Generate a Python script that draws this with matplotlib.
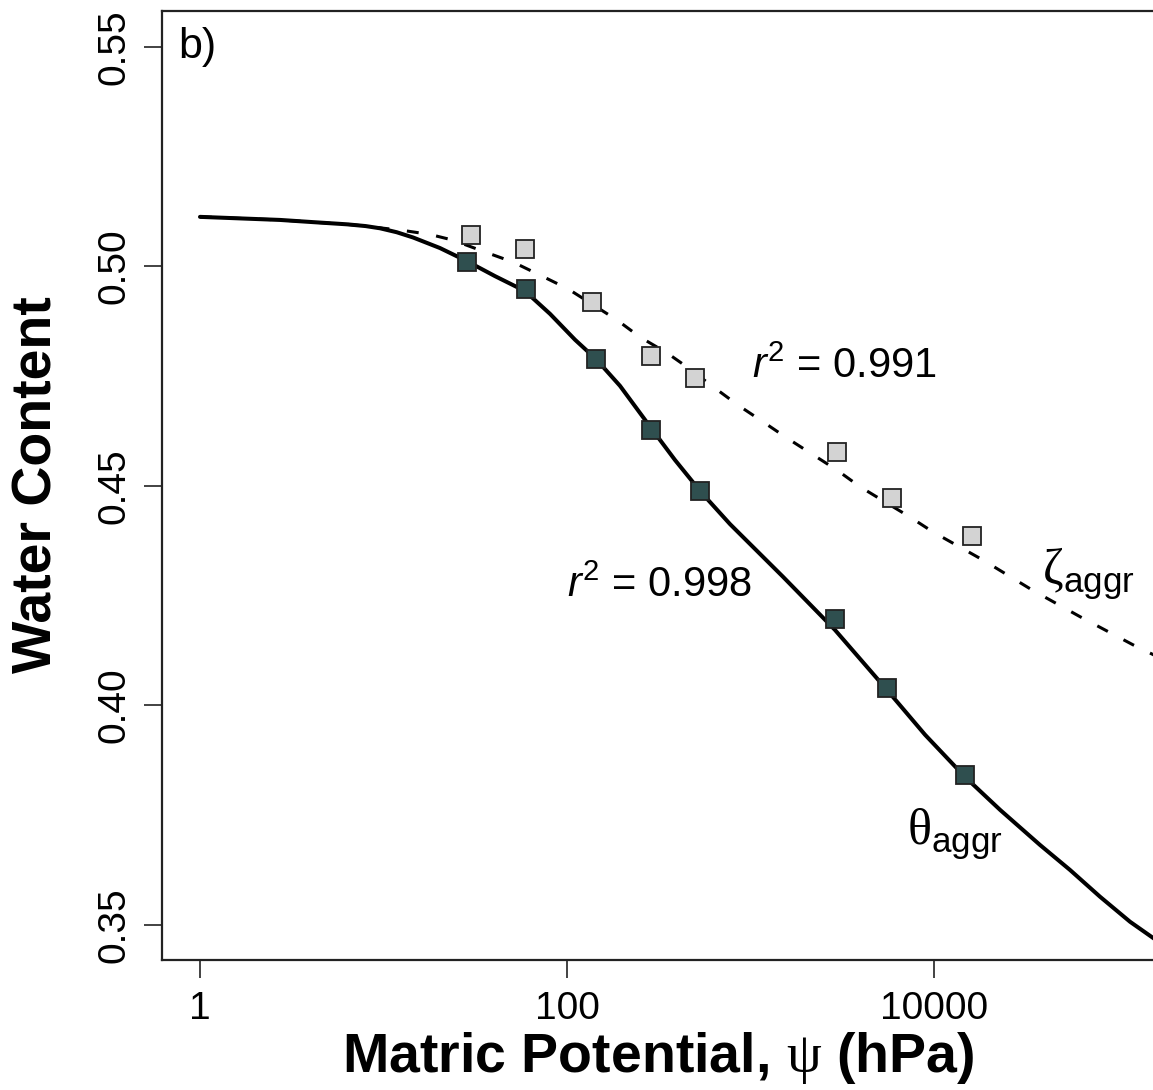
import matplotlib
matplotlib.use("Agg")
import matplotlib.pyplot as plt
from matplotlib.ticker import FixedLocator, NullLocator, FixedFormatter

plt.rcParams['font.family'] = ['Liberation Sans', 'DejaVu Sans']
plt.rcParams['mathtext.fontset'] = 'custom'
plt.rcParams['mathtext.rm'] = 'Liberation Serif'
plt.rcParams['mathtext.it'] = 'Liberation Sans:italic'
plt.rcParams['mathtext.sf'] = 'Liberation Sans'
plt.rcParams['mathtext.bf'] = 'Liberation Sans:bold'

# measured data points (matric potential in hPa, water content)
psi_theta = [28.4, 59.6, 143.9, 287, 531, 2884, 5546, 14750]
theta_obs = [0.5011, 0.4948, 0.4789, 0.4627, 0.4489, 0.4197, 0.4040, 0.3842]

psi_zeta = [29.9, 59.3, 136.4, 288, 500, 2951, 5929, 16100]
zeta_obs = [0.5072, 0.5040, 0.4918, 0.4796, 0.4745, 0.4578, 0.4473, 0.4386]

# fitted curves
psi_fit_theta = [1, 2.73, 4.13, 6.33, 8.0, 9.57, 11.8, 14.5, 20.3, 28.2, 40.5,
                 59.0, 80.8, 110.6, 143.9, 194.4, 287, 387.7, 537, 773, 1503,
                 2884, 5546, 8937, 14750, 22900, 37800, 55100, 80300, 117000,
                 170500]
theta_fit = [0.5113, 0.5106, 0.5101, 0.5096, 0.5092, 0.5087, 0.5078, 0.5066,
             0.5042, 0.5013, 0.4978, 0.4944, 0.4892, 0.4833, 0.4789, 0.4728,
             0.4632, 0.4559, 0.4486, 0.4413, 0.4293, 0.4172, 0.4035, 0.3933,
             0.3837, 0.3762, 0.3682, 0.3625, 0.3564, 0.3507, 0.3459]

psi_fit_zeta = [1, 2.73, 4.13, 6.33, 8.0, 9.57, 12.8, 17.9, 23.9, 35.7, 50.8,
                73.1, 101.2, 187.2, 250, 350.6, 450.6, 625, 855, 1170, 1581,
                2192, 2959, 3953, 7400, 9880, 18500, 34200, 62500, 121400,
                170500]
zeta_fit = [0.5113, 0.5106, 0.5101, 0.5096, 0.5092, 0.5088, 0.5082, 0.5073,
            0.5060, 0.5033, 0.5010, 0.4978, 0.4949, 0.4878, 0.4839, 0.4803,
            0.4771, 0.4726, 0.4684, 0.4646, 0.4609, 0.4571, 0.4536, 0.4498,
            0.4429, 0.4395, 0.4331, 0.4263, 0.4202, 0.4138, 0.4108]

x_ticks = [1, 100, 10000]
x_tick_labels = ['1', '100', '10000']
y_ticks = [0.35, 0.40, 0.45, 0.50, 0.55]
y_tick_labels = ['0.35', '0.40', '0.45', '0.50', '0.55']

fig = plt.figure(figsize=(11.53, 10.90), dpi=100)
ax = fig.add_axes([0.1405, 0.1193, 0.8656, 0.8706])
ax.set_xscale('log')
ax.set_xlim(0.6208, 170400)
ax.set_ylim(0.3420, 0.5582)

ax.plot(psi_fit_theta, theta_fit, color='black', lw=2.9, solid_capstyle='round',
        solid_joinstyle='round', zorder=2)
ax.plot(psi_fit_zeta, zeta_fit, color='black', lw=2.2, dashes=(3.9, 5.8), zorder=2)

ax.plot(psi_theta, theta_obs, ls='none', marker='s', ms=12.5, mfc='#2F4F4F',
        mec='#222222', mew=1.3, zorder=3)
ax.plot(psi_zeta, zeta_obs, ls='none', marker='s', ms=12.5, mfc='#D3D3D3',
        mec='#222222', mew=1.3, zorder=3)

ax.xaxis.set_major_locator(FixedLocator(x_ticks))
ax.xaxis.set_major_formatter(FixedFormatter(x_tick_labels))
ax.xaxis.set_minor_locator(NullLocator())
ax.set_yticks(y_ticks)
ax.set_yticklabels(y_tick_labels, rotation=90, va='center')

ax.tick_params(axis='both', which='major', length=13, width=1.2, labelsize=28,
               direction='out', color='#222222')
ax.tick_params(axis='x', pad=9)
ax.tick_params(axis='y', pad=8)
for s in ['left', 'bottom', 'top', 'right']:
    ax.spines[s].set_linewidth(1.6)
    ax.spines[s].set_color('#222222')

fig.text(38 / 1153, 1 - 485 / 1090, 'Water Content', rotation=90, fontsize=40,
         fontweight='bold', ha='center', va='center')
fig.text(658 / 1153, 1 - 1058 / 1090, r'Matric Potential, $\mathrm{\psi}$ (hPa)',
         fontsize=40, fontweight='bold', ha='center', va='center')

ax.text(0.016, 0.962, 'b)', transform=ax.transAxes, fontsize=31, ha='left', va='center')

ax.text(1019, 0.4746, r'$r^{\mathsf{2}}$ = 0.991', fontsize=30, ha='left', va='baseline')
ax.text(100, 0.4247, r'$r^{\mathsf{2}}$ = 0.998', fontsize=30, ha='left', va='baseline')
ax.text(7128, 0.3682, r'$\mathrm{\theta}_{\mathsf{aggr}}$', fontsize=36, ha='left', va='baseline')
ax.text(38800, 0.4274, r'$\mathrm{\zeta}_{\mathsf{aggr}}$', fontsize=36, ha='left', va='baseline')

fig.savefig('out.png', dpi=100)
